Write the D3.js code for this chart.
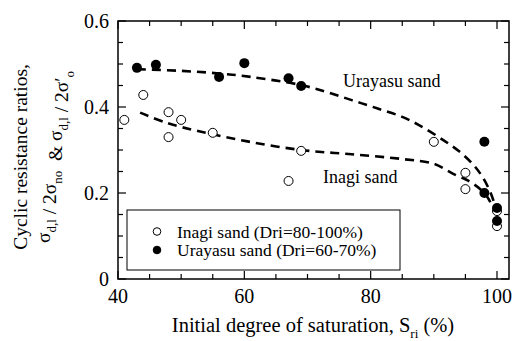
<!DOCTYPE html>
<html>
<head>
<meta charset="utf-8">
<script src="https://d3js.org/d3.v7.min.js"></script>
<style>
body { margin: 0; background: #fff; }
text { font-family: "Liberation Serif", "DejaVu Serif", "Times New Roman", Times, serif; fill: #000; white-space: pre; }
</style>
</head>
<body>
<svg width="513" height="341"></svg>
<script>
// measured points: [Sri %, ratio]
const inagiPts = [[41, 0.37], [44, 0.428], [48, 0.388], [48, 0.33], [50, 0.37], [55, 0.34],
  [67, 0.228], [69, 0.298], [90, 0.319], [95, 0.247], [95, 0.209], [100, 0.158], [100, 0.123]];
const urayasuPts = [[43, 0.491], [46, 0.498], [56, 0.47], [60, 0.502], [67, 0.467], [69, 0.449],
  [98, 0.319], [98, 0.2], [100, 0.165], [100, 0.135]];

// hand-drawn trend curves
const inagiCurve = [[43.5, 0.387], [47.7, 0.363], [53, 0.343], [60.5, 0.32], [69, 0.3],
  [77, 0.29], [85, 0.279], [90, 0.268], [93, 0.245], [95.5, 0.228], [97.5, 0.207], [98.5, 0.19], [99.4, 0.165]];
const urayasuCurve = [[43, 0.488], [50, 0.484], [56, 0.478], [61, 0.47], [69, 0.451], [73, 0.435],
  [77, 0.416], [81, 0.397], [85, 0.377], [88, 0.355], [91.5, 0.323], [94, 0.297], [96.3, 0.265],
  [97.8, 0.235], [99, 0.2], [99.7, 0.17], [100, 0.155]];

const xTicks = [40, 60, 80, 100];
const yTicks = [0, 0.2, 0.4, 0.6];
const legendItems = [
  {label: 'Inagi sand (Dri=80-100%)', fill: '#fff'},
  {label: 'Urayasu sand (Dri=60-70%)', fill: '#000'}
];

const FONT = '"Liberation Serif", "DejaVu Serif", serif';
const svg = d3.select('svg');
const pL = 118, pR = 509, pT = 21, pB = 279;

const x = d3.scaleLinear().domain([40, 101.9]).range([pL, pR]);
const y = d3.scaleLinear().domain([0, 0.6]).range([pB, pT]);

const xMinor = d3.range(40, 102, 5);
const yMinor = d3.range(0, 0.6001, 0.05);

// frame
svg.append('rect')
  .attr('x', pL).attr('y', pT)
  .attr('width', pR - pL).attr('height', pB - pT)
  .attr('fill', 'none').attr('stroke', '#000').attr('stroke-width', 1.5);

const tickG = svg.append('g').attr('stroke', '#000').attr('stroke-width', 1.2);
const isMajorX = v => xTicks.includes(Math.round(v));
const isMajorY = v => yTicks.some(t => Math.abs(t - v) < 1e-6);

xMinor.forEach(v => {
  const len = isMajorX(v) ? 8 : 5;
  tickG.append('line').attr('x1', x(v)).attr('x2', x(v)).attr('y1', pB).attr('y2', pB - len);
  tickG.append('line').attr('x1', x(v)).attr('x2', x(v)).attr('y1', pT).attr('y2', pT + len);
});
yMinor.forEach(v => {
  const len = isMajorY(v) ? 8 : 5;
  tickG.append('line').attr('y1', y(v)).attr('y2', y(v)).attr('x1', pL).attr('x2', pL + len);
  tickG.append('line').attr('y1', y(v)).attr('y2', y(v)).attr('x1', pR).attr('x2', pR - len);
});

// tick labels
svg.selectAll('.xl').data(xTicks).enter().append('text')
  .attr('x', d => x(d)).attr('y', pB + 24)
  .attr('text-anchor', 'middle').attr('font-family', FONT).style('font-size', '20px')
  .text(d => d);
svg.selectAll('.yl').data(yTicks).enter().append('text')
  .attr('x', pL - 9).attr('y', d => y(d) + 7)
  .attr('text-anchor', 'end').attr('font-family', FONT).style('font-size', '20px')
  .text(d => d === 0 ? '0' : d.toFixed(1));

// curves
const line = d3.line().x(d => x(d[0])).y(d => y(d[1])).curve(d3.curveCatmullRom);
[inagiCurve, urayasuCurve].forEach(c => {
  svg.append('path').attr('d', line(c))
    .attr('fill', 'none').attr('stroke', '#000').attr('stroke-width', 2.6)
    .attr('stroke-dasharray', '9,6');
});

// points
svg.selectAll('.pi').data(inagiPts).enter().append('circle')
  .attr('cx', d => x(d[0])).attr('cy', d => y(d[1])).attr('r', 4.5)
  .attr('fill', '#fff').attr('stroke', '#000').attr('stroke-width', 1);
svg.selectAll('.pu').data(urayasuPts).enter().append('circle')
  .attr('cx', d => x(d[0])).attr('cy', d => y(d[1])).attr('r', 5)
  .attr('fill', '#000');

// curve labels
svg.append('text').attr('x', 343).attr('y', 87).attr('font-family', FONT).style('font-size', '18px').text('Urayasu sand');
svg.append('text').attr('x', 323).attr('y', 183).attr('font-family', FONT).style('font-size', '18px').text('Inagi sand');

// legend
const lg = svg.append('g');
lg.append('rect').attr('x', 127).attr('y', 210).attr('width', 273).attr('height', 60)
  .attr('fill', '#fff').attr('stroke', '#000').attr('stroke-width', 1);
legendItems.forEach((d, i) => {
  const cy = 231.5 + i * 18.5;
  lg.append('circle').attr('cx', 157).attr('cy', cy).attr('r', 3.8)
    .attr('fill', d.fill).attr('stroke', '#000').attr('stroke-width', 1);
  lg.append('text').attr('x', 177).attr('y', cy + 6).attr('font-family', FONT).style('font-size', '17.5px').text(d.label);
});

// x axis title
const xt = svg.append('text').attr('x', 313).attr('y', 332).attr('text-anchor', 'middle')
  .attr('font-family', FONT).style('font-size', '20.5px');
xt.append('tspan').text('Initial degree of saturation, S');
xt.append('tspan').attr('dy', 6).style('font-size', '13px').text('ri');
xt.append('tspan').attr('dy', -6).text(' (%)');

// y axis title (two lines)
svg.append('text').attr('transform', 'translate(27,157) rotate(-90)')
  .attr('text-anchor', 'middle').attr('font-family', FONT).style('font-size', '19.5px')
  .text('Cyclic resistance ratios,');
const yt = svg.append('text').attr('transform', 'translate(50,157) rotate(-90)')
  .attr('text-anchor', 'middle').attr('font-family', FONT).style('font-size', '19.5px');
[['σ', 'd,l'], [' / 2σ', 'no'], ['  & σ', 'd,l'], [' / 2σ\u2032', 'o']].forEach(([main, sub]) => {
  yt.append('tspan').text(main);
  yt.append('tspan').attr('dy', 6).style('font-size', '13px').text(sub);
  yt.append('tspan').attr('dy', -6).text('');
});
</script>
</body>
</html>
